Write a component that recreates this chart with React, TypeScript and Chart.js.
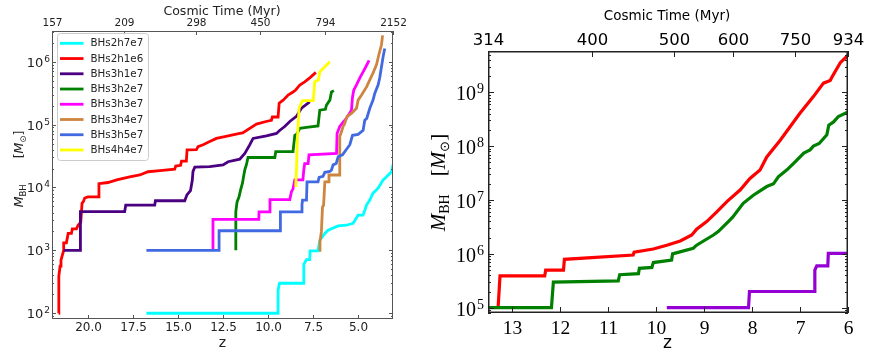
import React, { useEffect, useRef } from 'react';
import { Chart, registerables } from 'chart.js';

Chart.register(...registerables);

// ================= LEFT PANEL DATA: [redshift z, M_BH (Msun)] =================
const leftSeriesNames = ['BHs2h7e7', 'BHs2h1e6', 'BHs3h1e7', 'BHs3h2e7', 'BHs3h3e7', 'BHs3h4e7', 'BHs3h5e7', 'BHs4h4e7'];
const leftSeriesColors = ['#00ffff', '#ff0000', '#4b0082', '#008000', '#ff00ff', '#cd853f', '#4169e1', '#ffff00'];

const bhs2h7e7 = [[16.75, 100], [9.43, 100], [9.43, 230], [9.35, 300], [8.04, 300], [8.0, 600], [7.85, 710], [7.67, 710], [7.65, 980], [7.21, 980], [7.11, 1450], [6.83, 1860], [6.65, 2090], [6.09, 2450], [5.63, 2510], [5.26, 2690], [4.98, 3630], [4.7, 3630], [4.51, 5250], [4.33, 6310], [4.15, 8130], [3.87, 9770], [3.59, 13200], [3.4, 14800], [3.12, 17800], [3.04, 22900]];
const bhs2h1e6 = [[21.63, 100], [21.62, 390], [21.55, 560], [21.5, 700], [21.42, 850], [21.35, 1000], [21.35, 1320], [21.2, 1320], [21.1, 1860], [20.92, 1860], [20.87, 2200], [20.64, 2200], [20.55, 2500], [20.4, 2800], [20.33, 5600], [20.25, 6000], [20.18, 6800], [20.0, 7100], [19.44, 7100], [19.39, 11500], [18.89, 12000], [18.4, 13200], [17.68, 14800], [17.12, 15800], [16.66, 17800], [16.0, 18500], [15.18, 19500], [15.12, 21900], [14.85, 22500], [14.8, 26300], [14.53, 26300], [14.49, 39800], [13.97, 40000], [13.88, 44700], [13.6, 47900], [13.23, 53700], [12.86, 60300], [12.39, 64600], [11.56, 72400], [11.4, 74000], [10.63, 102000], [10.1, 112000], [9.8, 117000], [9.75, 132000], [9.43, 132000], [9.37, 219000], [9.15, 245000], [8.87, 295000], [8.6, 330000], [8.45, 355000], [8.22, 427000], [7.95, 479000], [7.65, 560000], [7.33, 676000]];
const bhs3h1e7 = [[21.35, 1000], [20.42, 1000], [20.42, 4120], [17.96, 4120], [17.9, 5260], [16.29, 5260], [16.25, 6150], [14.62, 6150], [14.5, 7600], [14.3, 8900], [14.2, 13000], [14.16, 18000], [14.06, 21000], [13.23, 21400], [12.49, 22900], [12.21, 25700], [11.56, 28200], [11.28, 34700], [11.0, 47900], [10.82, 60300], [10.08, 66100], [9.52, 72400], [9.33, 81300], [9.06, 93300], [8.78, 112000], [8.41, 135000], [8.13, 182000], [7.67, 229000]];
const bhs3h2e7 = [[11.78, 1000], [11.78, 4100], [11.71, 5900], [11.6, 7100], [11.52, 9000], [11.41, 11700], [11.35, 14800], [11.28, 19000], [11.19, 23000], [11.1, 30000], [9.61, 30000], [9.56, 37100], [8.6, 37100], [8.5, 67600], [8.4, 70000], [8.22, 87000], [7.85, 90000], [7.21, 95000], [7.11, 170000], [6.8, 175000], [6.74, 204000], [6.55, 245000], [6.46, 331000], [6.33, 347000]];
const bhs3h3e7 = [[13.05, 1000], [13.05, 3100], [10.5, 3100], [10.49, 4100], [9.89, 4100], [9.88, 6400], [8.78, 6400], [8.69, 8500], [8.6, 9500], [8.5, 13200], [8.05, 13200], [8.0, 19000], [7.95, 24000], [7.76, 24000], [7.71, 33100], [6.18, 34700], [6.15, 72400], [6.0, 93300], [5.8, 110000], [5.63, 126000], [5.35, 170000], [5.29, 275000], [5.22, 355000], [5.07, 427000], [4.89, 550000], [4.74, 660000], [4.55, 832000], [4.37, 1050000]];
const bhs3h4e7 = [[7.15, 1000], [7.1, 1380], [7.02, 2000], [6.96, 4900], [6.9, 5200], [6.83, 12300], [6.65, 12300], [6.6, 15800], [6.0, 15800], [6.0, 64600], [5.9, 77600], [5.82, 93300], [5.75, 100000], [5.59, 135000], [5.35, 151000], [5.07, 182000], [4.98, 245000], [4.79, 295000], [4.51, 398000], [4.33, 513000], [4.15, 661000], [3.96, 891000], [3.81, 1350000], [3.68, 1860000], [3.62, 2630000]];
const bhs3h5e7 = [[16.75, 1000], [12.71, 1000], [12.71, 2050], [9.3, 2050], [9.3, 4100], [8.13, 4100], [8.1, 5300], [8.07, 6300], [7.85, 6300], [7.82, 12300], [7.21, 12300], [7.15, 14500], [6.93, 15000], [6.83, 17400], [6.55, 18000], [6.46, 19000], [6.37, 22900], [6.2, 24000], [6.09, 30900], [5.85, 33100], [5.44, 47900], [5.29, 67600], [4.98, 70000], [4.7, 81300], [4.61, 117000], [4.5, 125000], [4.33, 182000], [4.15, 245000], [4.05, 316000], [3.87, 427000], [3.78, 550000], [3.68, 832000], [3.59, 1200000], [3.5, 1620000]];
const bhs4h4e7 = [[8.45, 10200], [8.41, 19000], [8.35, 65000], [8.26, 182000], [8.2, 200000], [8.07, 240000], [7.47, 240000], [7.39, 480000], [7.19, 510000], [7.11, 690000], [6.83, 830000], [6.55, 1000000]];
const leftSeries = [bhs2h7e7, bhs2h1e6, bhs3h1e7, bhs3h2e7, bhs3h3e7, bhs3h4e7, bhs3h5e7, bhs4h4e7];

const leftZRange = [3.04, 22.0];
const leftMassRange = [81, 3.08e6];
const leftBottomTicks = [20, 17.5, 15, 12.5, 10, 7.5, 5];
const leftBottomLabels = ['20.0', '17.5', '15.0', '12.5', '10.0', '7.5', '5.0'];
const leftTopTickZ = [22.0, 18.01, 14.02, 10.45, 6.83, 3.04];
const leftTopLabels = ['157', '209', '298', '450', '794', '2152'];
const leftYTicks = [1e2, 1e3, 1e4, 1e5, 1e6];
const leftYExponents = ['2', '3', '4', '5', '6'];

// ================= RIGHT PANEL DATA =================
const rightRed = [[13.28, 1e5], [13.24, 3.9e5], [12.31, 3.9e5], [12.29, 5.0e5], [11.92, 5.0e5], [11.9, 7.9e5], [10.47, 9.5e5], [10.45, 1.07e6], [10.05, 1.23e6], [9.77, 1.45e6], [9.49, 1.74e6], [9.25, 2.24e6], [9.15, 2.88e6], [8.94, 3.98e6], [8.73, 6.03e6], [8.52, 9.33e6], [8.24, 1.55e7], [8.04, 2.51e7], [7.83, 3.63e7], [7.69, 6.31e7], [7.41, 1.29e8], [7.0, 4.07e8], [6.72, 8.32e8], [6.51, 1.48e9], [6.37, 1.66e9], [6.33, 1.95e9], [6.16, 3.55e9], [6.0, 4.9e9]];
const rightGreen = [[13.49, 1e5], [12.17, 1e5], [12.13, 3.0e5], [10.78, 3.16e5], [10.75, 4.1e5], [10.36, 4.3e5], [10.34, 5.4e5], [10.08, 5.6e5], [10.05, 6.9e5], [9.67, 7.7e5], [9.65, 1.0e6], [9.22, 1.27e6], [9.15, 1.45e6], [8.8, 2.24e6], [8.7, 2.6e6], [8.49, 3.98e6], [8.4, 4.8e6], [8.18, 8.7e6], [7.97, 1.23e7], [7.69, 1.78e7], [7.55, 2.0e7], [7.45, 2.7e7], [7.27, 3.63e7], [7.1, 5.13e7], [6.92, 7.41e7], [6.79, 8.51e7], [6.72, 1.0e8], [6.6, 1.12e8], [6.44, 1.62e8], [6.4, 2.45e8], [6.3, 2.82e8], [6.2, 3.55e8], [6.0, 4.3e8]];
const rightPurple = [[9.77, 1e5], [8.07, 1e5], [8.05, 2.0e5], [6.7, 2.0e5], [6.69, 5.0e5], [6.65, 6.0e5], [6.42, 6.0e5], [6.41, 1.02e6], [6.0, 1.02e6]];
const rightSeries = [rightRed, rightGreen, rightPurple];
const rightSeriesNames = ['red', 'green', 'purple'];
const rightSeriesColors = ['#ff0000', '#008000', '#9400d3'];

const rightZRange = [6.0, 13.49];
const rightMassRange = [7.98e4, 5.85e9];
const rightBottomTicks = [13, 12, 11, 10, 9, 8, 7, 6];
const rightTopTickZ = [13.49, 11.33, 9.61, 8.4, 7.1, 6.0];
const rightTopLabels = ['314', '400', '500', '600', '750', '934'];
const rightYTicks = [1e5, 1e6, 1e7, 1e8, 1e9];
const rightYExponents = ['5', '6', '7', '8', '9'];

// ================= helpers =================
const SANS = '"DejaVu Sans"';
const SERIF = '"Liberation Serif"';

function minorTicks(min: number, max: number) {
  const out: number[] = [];
  for (let e = Math.floor(Math.log10(min)); e <= Math.ceil(Math.log10(max)); e++) {
    for (let k = 2; k <= 9; k++) {
      const v = k * Math.pow(10, e);
      if (v > min && v < max) out.push(v);
    }
  }
  return out;
}

function drawPow(ctx: any, exp: string, xr: number, baseY: number, baseFont: string, expFont: string, rise: number, color: string) {
  ctx.font = expFont;
  const we = ctx.measureText(exp).width;
  ctx.font = baseFont;
  const wb = ctx.measureText('10').width;
  ctx.fillStyle = color;
  ctx.textAlign = 'left';
  ctx.textBaseline = 'alphabetic';
  const x0 = xr - we - wb - 1;
  ctx.fillText('10', x0, baseY);
  ctx.font = expFont;
  ctx.fillText(exp, x0 + wb + 1, baseY - rise);
}

type Part = { t: string; font: string; dy?: number; gap?: number };
function drawRotated(ctx: any, parts: Part[], baseX: number, centerY: number, color: string) {
  let total = 0;
  const widths = parts.map((p) => {
    ctx.font = p.font;
    const w = ctx.measureText(p.t).width + (p.gap || 0);
    total += w;
    return w;
  });
  ctx.save();
  ctx.translate(baseX, centerY);
  ctx.rotate(-Math.PI / 2);
  ctx.fillStyle = color;
  ctx.textAlign = 'left';
  ctx.textBaseline = 'alphabetic';
  let x = -total / 2;
  parts.forEach((p, i) => {
    ctx.font = p.font;
    ctx.fillText(p.t, x + (p.gap || 0), p.dy || 0);
    x += widths[i];
  });
  ctx.restore();
}

function hLine(ctx: any, x1: number, x2: number, y: number) {
  ctx.beginPath();
  ctx.moveTo(x1, y);
  ctx.lineTo(x2, y);
  ctx.stroke();
}
function vLine(ctx: any, x: number, y1: number, y2: number) {
  ctx.beginPath();
  ctx.moveTo(x, y1);
  ctx.lineTo(x, y2);
  ctx.stroke();
}

// ================= decoration plugins =================
const leftDecor = {
  id: 'leftDecor',
  afterDatasetsDraw(chart: any) {
    const { ctx, chartArea: a } = chart;
    const sx = chart.scales.x;
    const sx2 = chart.scales.x2;
    const sy = chart.scales.y;
    const frame = '#555555';
    const txt = '#222222';
    ctx.save();
    ctx.strokeStyle = frame;
    ctx.lineWidth = 1;
    ctx.strokeRect(a.left + 0.5, a.top + 0.5, a.right - a.left - 1, a.bottom - a.top - 1);

    // bottom z ticks
    ctx.fillStyle = txt;
    ctx.font = `12px ${SANS}`;
    ctx.textAlign = 'center';
    ctx.textBaseline = 'alphabetic';
    leftBottomTicks.forEach((v, i) => {
      const px = Math.round(sx.getPixelForValue(v)) + 0.5;
      vLine(ctx, px, a.bottom, a.bottom - 4);
      ctx.fillText(leftBottomLabels[i], px, 331);
    });
    ctx.font = `14px ${SANS}`;
    ctx.fillText('z', (a.left + a.right) / 2, 347);

    // top cosmic time ticks
    ctx.font = `10.5px ${SANS}`;
    sx2.ticks.forEach((t: any, i: number) => {
      const px = Math.round(sx2.getPixelForValue(t.value)) + 0.5;
      vLine(ctx, px, a.top, a.top + 4);
      ctx.fillText(leftTopLabels[i], px, 26);
    });
    ctx.font = `12.5px ${SANS}`;
    ctx.fillText('Cosmic Time (Myr)', 222, 14.5);

    // y ticks
    leftYTicks.forEach((v, i) => {
      const py = Math.round(sy.getPixelForValue(v)) + 0.5;
      hLine(ctx, a.left, a.left + 4, py);
      hLine(ctx, a.right, a.right - 4, py);
      drawPow(ctx, leftYExponents[i], 50, py + 4.5, `13px ${SANS}`, `9px ${SANS}`, 5.5, txt);
    });
    minorTicks(sy.min, sy.max).forEach((v) => {
      const py = Math.round(sy.getPixelForValue(v)) + 0.5;
      hLine(ctx, a.left, a.left + 2, py);
      hLine(ctx, a.right, a.right - 2, py);
    });

    drawRotated(
      ctx,
      [
        { t: 'M', font: `italic 12.5px ${SANS}` },
        { t: 'BH', font: `8.5px ${SANS}`, dy: 3 },
        { t: '[', font: `12.5px ${SANS}`, gap: 26 },
        { t: 'M', font: `italic 12.5px ${SANS}` },
        { t: '⊙', font: `8.5px ${SANS}`, dy: 3 },
        { t: ']', font: `12.5px ${SANS}` },
      ],
      23,
      169,
      txt
    );
  },
  afterDraw(chart: any) {
    const { ctx } = chart;
    ctx.save();
    const x = 57.5, y = 33.5, w = 91, h = 127, r = 3;
    ctx.beginPath();
    ctx.moveTo(x + r, y);
    ctx.lineTo(x + w - r, y);
    ctx.quadraticCurveTo(x + w, y, x + w, y + r);
    ctx.lineTo(x + w, y + h - r);
    ctx.quadraticCurveTo(x + w, y + h, x + w - r, y + h);
    ctx.lineTo(x + r, y + h);
    ctx.quadraticCurveTo(x, y + h, x, y + h - r);
    ctx.lineTo(x, y + r);
    ctx.quadraticCurveTo(x, y, x + r, y);
    ctx.closePath();
    ctx.fillStyle = 'rgba(255,255,255,0.85)';
    ctx.fill();
    ctx.strokeStyle = '#cccccc';
    ctx.lineWidth = 1;
    ctx.stroke();
    ctx.font = `10.3px ${SANS}`;
    ctx.textAlign = 'left';
    ctx.textBaseline = 'middle';
    leftSeriesNames.forEach((name, i) => {
      const yy = 43.3 + 15.24 * i;
      ctx.strokeStyle = leftSeriesColors[i];
      ctx.lineWidth = 2.8;
      hLine(ctx, 60, 83.5, yy);
      ctx.fillStyle = '#222222';
      ctx.fillText(name, 90.5, yy + 0.5);
    });
    ctx.restore();
  },
};

const rightDecor = {
  id: 'rightDecor',
  afterDatasetsDraw(chart: any) {
    const { ctx, chartArea: a } = chart;
    const sx = chart.scales.x;
    const sx2 = chart.scales.x2;
    const sy = chart.scales.y;
    ctx.save();
    ctx.strokeStyle = '#222222';
    ctx.lineWidth = 1.5;
    ctx.strokeRect(a.left + 0.75, a.top + 0.75, a.right - a.left - 1.5, a.bottom - a.top - 1.5);
    ctx.lineWidth = 1;
    ctx.fillStyle = '#000000';
    ctx.textAlign = 'center';
    ctx.textBaseline = 'alphabetic';

    ctx.font = `19.5px ${SERIF}`;
    rightBottomTicks.forEach((v) => {
      const px = Math.round(sx.getPixelForValue(v)) + 0.5;
      vLine(ctx, px, a.bottom, a.bottom - 6);
      ctx.fillText(String(v), px, 333.5);
    });
    ctx.font = `17px ${SANS}`;
    ctx.fillText('z', (a.left + a.right) / 2 - 0.5, 348);

    ctx.font = `16.5px ${SANS}`;
    sx2.ticks.forEach((t: any, i: number) => {
      const px = Math.round(sx2.getPixelForValue(t.value)) + 0.5;
      vLine(ctx, px, a.top, a.top + 6);
      ctx.fillText(rightTopLabels[i], px, 45);
    });
    ctx.font = `13.5px ${SANS}`;
    ctx.fillText('Cosmic Time (Myr)', 667 - 420, 20);

    rightYTicks.forEach((v, i) => {
      const py = Math.round(sy.getPixelForValue(v)) + 0.5;
      hLine(ctx, a.left, a.left + 6, py);
      hLine(ctx, a.right, a.right - 6, py);
      drawPow(ctx, rightYExponents[i], 484 - 420, py + 7.5, `20px ${SERIF}`, `14px ${SERIF}`, 7.5, '#000000');
    });
    minorTicks(sy.min, sy.max).forEach((v) => {
      const py = Math.round(sy.getPixelForValue(v)) + 0.5;
      hLine(ctx, a.left, a.left + 3, py);
      hLine(ctx, a.right, a.right - 3, py);
    });

    drawRotated(
      ctx,
      [
        { t: 'M', font: `italic 21px ${SERIF}` },
        { t: 'BH', font: `14px ${SERIF}`, dy: 4 },
        { t: '[', font: `21px ${SERIF}`, gap: 18 },
        { t: 'M', font: `italic 21px ${SERIF}` },
        { t: '⊙', font: `13px ${SERIF}`, dy: 4 },
        { t: ']', font: `21px ${SERIF}` },
      ],
      445 - 420,
      182.5,
      '#000000'
    );
    ctx.restore();
  },
};

// ================= chart factory =================
function buildChart(
  canvas: HTMLCanvasElement,
  series: number[][][],
  names: string[],
  colors: string[],
  width: number,
  zRange: number[],
  mRange: number[],
  topTicks: number[],
  padding: any,
  plugin: any
) {
  const n = series.length;
  const datasets = series.map((s, i) => ({
    label: names[i],
    data: s.map(([z, m]) => ({ x: z, y: m })),
    borderColor: colors[i],
    backgroundColor: colors[i],
    borderWidth: width,
    pointRadius: 0,
    tension: 0,
    fill: false,
    order: n - i,
  }));
  const hidden = { display: false, drawTicks: false };
  return new Chart(canvas, {
    type: 'line',
    data: { datasets },
    options: {
      animation: false,
      responsive: false,
      events: [],
      layout: { padding },
      plugins: { legend: { display: false }, tooltip: { enabled: false }, title: { display: false } },
      scales: {
        x: {
          type: 'linear',
          position: 'bottom',
          reverse: true,
          min: zRange[0],
          max: zRange[1],
          bounds: 'data',
          grid: hidden,
          border: { display: false },
          ticks: { display: false },
        },
        x2: {
          type: 'linear',
          position: 'top',
          reverse: true,
          min: zRange[0],
          max: zRange[1],
          bounds: 'data',
          grid: hidden,
          border: { display: false },
          ticks: { display: false },
          afterBuildTicks: (s: any) => {
            s.ticks = topTicks.map((v) => ({ value: v }));
          },
        },
        y: {
          type: 'logarithmic',
          min: mRange[0],
          max: mRange[1],
          bounds: 'data',
          grid: hidden,
          border: { display: false },
          ticks: { display: false },
        },
      },
    } as any,
    plugins: [plugin],
  });
}

export default function App() {
  const leftRef = useRef<HTMLCanvasElement>(null);
  const rightRef = useRef<HTMLCanvasElement>(null);

  useEffect(() => {
    const c1 = buildChart(
      leftRef.current!,
      leftSeries,
      leftSeriesNames,
      leftSeriesColors,
      2.8,
      leftZRange,
      leftMassRange,
      leftTopTickZ,
      { left: 52, top: 31, right: 27, bottom: 40 },
      leftDecor
    );
    const c2 = buildChart(
      rightRef.current!,
      rightSeries,
      rightSeriesNames,
      rightSeriesColors,
      3.2,
      rightZRange,
      rightMassRange,
      rightTopTickZ,
      { left: 68, top: 51, right: 28, bottom: 46 },
      rightDecor
    );
    return () => {
      c1.destroy();
      c2.destroy();
    };
  }, []);

  return (
    <div style={{ position: 'absolute', left: 0, top: 0, width: 876, height: 359, background: '#ffffff' }}>
      <canvas ref={leftRef} width={420} height={359} style={{ position: 'absolute', left: 0, top: 0, display: 'block' }} />
      <canvas ref={rightRef} width={456} height={359} style={{ position: 'absolute', left: 420, top: 0, display: 'block' }} />
    </div>
  );
}
